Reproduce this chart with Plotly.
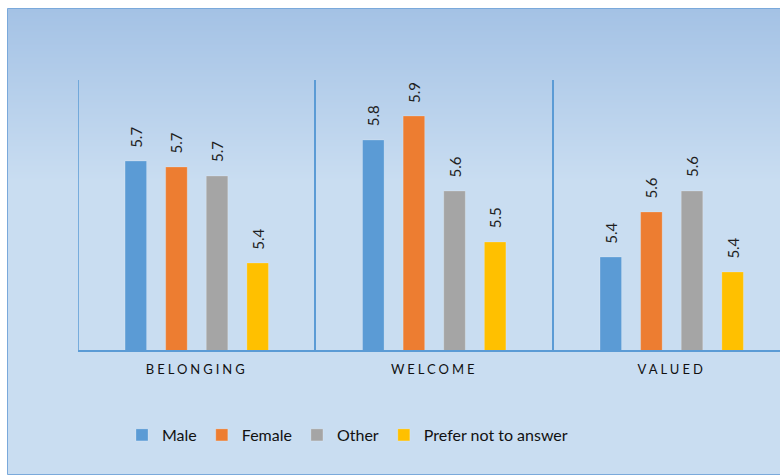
import base64
import struct
import zlib

import plotly.graph_objects as go

# Survey averages by gender for each sense-of-inclusion measure
categories = ["BELONGING", "WELCOME", "VALUED"]
series_names = ["Male", "Female", "Other", "Prefer not to answer"]
male = [5.73, 5.80, 5.41]
female = [5.71, 5.88, 5.56]
other = [5.68, 5.63, 5.63]
prefer_not = [5.39, 5.46, 5.36]
series_values = [male, female, other, prefer_not]
colors = ["#5B9BD5", "#ED7D31", "#A5A5A5", "#FFC000"]

W, H = 780, 475
L, T, B = 78, 80, 125
plot_w = W - L
plot_h = H - T - B
BARGAP = 0.316
BARGROUPGAP = 0.47
SLOT = (1 - BARGAP) / len(series_names)
FONT = "Lato, 'Open Sans', sans-serif"


def px_x(px):
    return (px - L) / plot_w


def px_y(py):
    return (H - B - py) / plot_h


def gradient_png(height, fade_rows, c0, c1):
    """1-pixel-wide PNG: vertical fade from c0 to c1, then flat c1."""
    raw = b""
    for r in range(height):
        f = min(1.0, r / fade_rows)
        rgb = bytes(round(a + (b - a) * f) for a, b in zip(c0, c1))
        raw += b"\x00" + rgb

    def chunk(tag, data):
        body = tag + data
        return struct.pack(">I", len(data)) + body + struct.pack(">I", zlib.crc32(body) & 0xFFFFFFFF)

    png = b"\x89PNG\r\n\x1a\n"
    png += chunk(b"IHDR", struct.pack(">IIBBBBB", 1, height, 8, 2, 0, 0, 0))
    png += chunk(b"IDAT", zlib.compress(raw, 9))
    png += chunk(b"IEND", b"")
    return "data:image/png;base64," + base64.b64encode(png).decode()


fig = go.Figure()
for name, vals, col in zip(series_names, series_values, colors):
    fig.add_trace(go.Bar(
        name=name, x=categories, y=vals,
        marker=dict(color=col, line=dict(width=0.6, color="rgba(255,255,255,0.35)")),
        hoverinfo="skip",
    ))

# Rotated value labels above each bar
annotations = []
for i, vals in enumerate(series_values):
    for j, v in enumerate(vals):
        annotations.append(dict(
            x=j + (i - 1.5) * SLOT, y=v, xref="x", yref="y",
            text=f"{v:.1f}", showarrow=False, textangle=-90,
            xanchor="center", yanchor="middle", yshift=24,
            font=dict(family=FONT, size=15, color="#1f1f1f"),
        ))

# Background panel with a soft top-down fade
top_px, bottom_px = 8.5, 474.5
panel_h = int(bottom_px - top_px)
panel = gradient_png(panel_h, 172, (164, 194, 229), (201, 221, 241))
images = [dict(
    source=panel, xref="paper", yref="paper", layer="below",
    x=px_x(7.5), y=px_y(top_px), sizex=px_x(800) - px_x(7.5),
    sizey=px_y(top_px) - px_y(bottom_px), sizing="stretch",
    xanchor="left", yanchor="top",
)]

shapes = [
    dict(
        type="rect", xref="paper", yref="paper", layer="below",
        x0=px_x(7.5), x1=px_x(800), y0=px_y(bottom_px), y1=px_y(top_px),
        fillcolor="rgba(0,0,0,0)", line=dict(width=1, color="#7AA9DB"),
    ),
    # divider at the left edge of the first category
    dict(
        type="line", xref="x", yref="paper", layer="above",
        x0=-0.5, x1=-0.5, y0=0, y1=1,
        line=dict(width=1.5, color="#5B9BD5"),
    ),
]

fig.update_layout(
    width=W, height=H,
    margin=dict(l=L, r=0, t=T, b=B, pad=0),
    paper_bgcolor="white",
    plot_bgcolor="rgba(0,0,0,0)",
    barmode="group",
    bargap=BARGAP,
    bargroupgap=BARGROUPGAP,
    images=images,
    shapes=shapes,
    annotations=annotations,
    showlegend=True,
    legend=dict(
        orientation="h", xref="container", yref="container",
        x=122 / W, y=1 - 435 / H, xanchor="left", yanchor="middle",
        font=dict(family=FONT, size=16, color="#111111"),
        bgcolor="rgba(0,0,0,0)", itemclick=False, itemdoubleclick=False,
    ),
    xaxis=dict(
        type="category",
        range=[-0.5, 2.456],
        showline=True, linecolor="#5B9BD5", linewidth=2,
        showgrid=True, gridcolor="#5B9BD5", gridwidth=1.5,
        tickson="boundaries", ticks="",
        ticklabelstandoff=6,
        tickfont=dict(family=FONT, size=13, color="#111111"),
        zeroline=False, fixedrange=True,
    ),
    yaxis=dict(
        range=[5.1, 6.0], visible=False, showgrid=False,
        zeroline=False, fixedrange=True,
    ),
)

post = (
    "document.querySelectorAll('.xtick text').forEach(function(t){"
    "t.style.letterSpacing='3px';});"
)
fig.write_html("out.html", config={"displayModeBar": False}, post_script=post)
